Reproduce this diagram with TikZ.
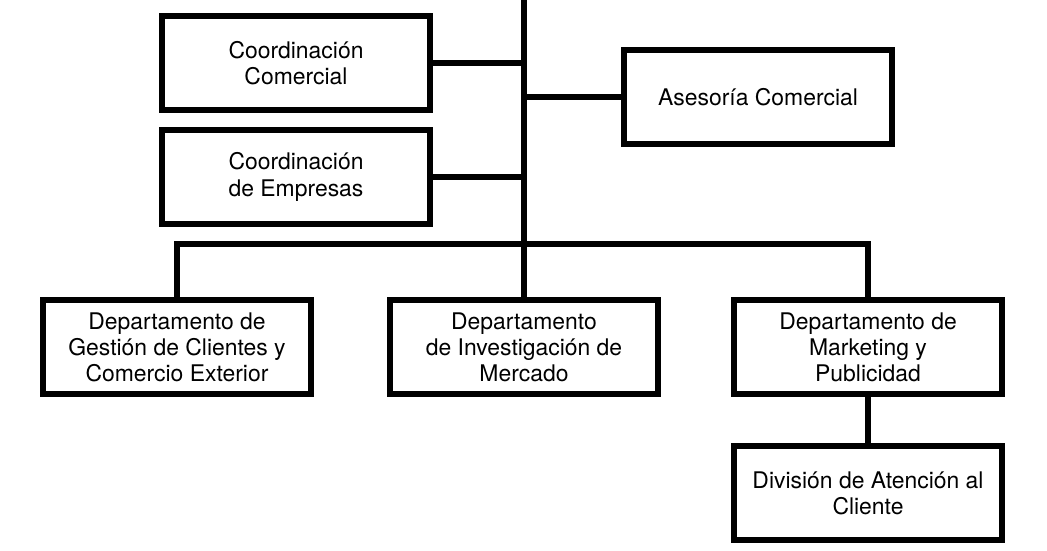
\documentclass[tikz,border=0pt]{standalone}
\usepackage{fontspec}
\setmainfont{TeX Gyre Heros}
\usetikzlibrary{positioning}
\tikzset{
	unit/.style={draw, line width=0.15cm, minimum width=6.7cm, minimum height=2.35cm, inner sep=0pt, align=center, font=\fontsize{16.3}{18.6}\selectfont},
	link/.style={line width=0.15cm}
}

\begin{document}
\begin{tikzpicture}
	\useasboundingbox (0,0) rectangle (26.175,-13.775);
	
	%main line
	\coordinate (top) at (13.1,0);
	\coordinate (bar) at (13.1,-6.09);
	
	%upper units
	\node[unit] (cc) at (7.4,-1.575) {Coordinación\\Comercial};
	\node[unit] (ce) at (7.4,-4.425) {Coordinación\\de Empresas};
	\node[unit] (ac) at (18.95,-2.425) {Asesoría Comercial};
	
	%departments
	\node[unit] (dgc) at (4.425,-8.68) {Departamento de\\Gestión de Clientes y\\Comercio Exterior};
	\node[unit] (dim) at (13.1,-8.68) {Departamento\\de Investigación de\\Mercado};
	\node[unit] (dmp) at (21.7,-8.68) {Departamento de\\Marketing y\\Publicidad};
	
	%division
	\node[unit] (dac) at (21.7,-12.33) {División de Atención al\\Cliente};
	
	%connectors
	\draw[link] (top) -- (dim.north);
	\draw[link] (cc.east) -- (cc.east -| top);
	\draw[link] (ce.east) -- (ce.east -| top);
	\draw[link] (ac.west) -- (ac.west -| top);
	\draw[link] (dgc.north) |- (bar) -| (dmp.north);
	\draw[link] (dmp.south) -- (dac.north);
\end{tikzpicture}
\end{document}
